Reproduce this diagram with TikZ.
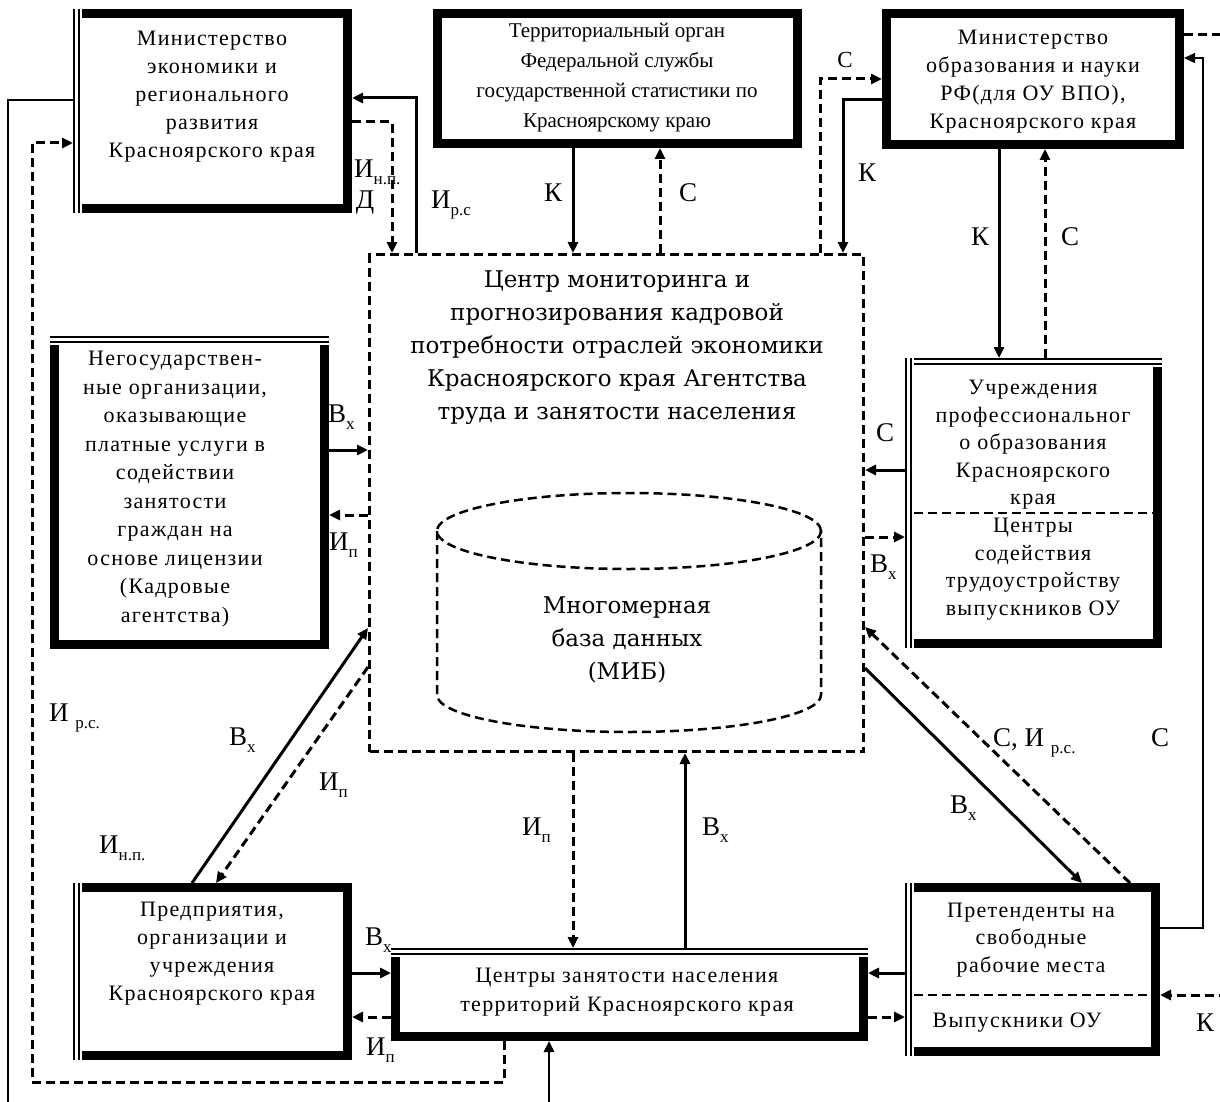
\documentclass[tikz,border=0pt]{standalone}
\usepackage{fontspec}
\setmainfont{Liberation Serif}
\newfontfamily\boxfont[LetterSpace=6]{Liberation Serif}
\newfontfamily\cfont{DejaVu Serif}
\usetikzlibrary{arrows.meta}
\newcommand{\lsub}[1]{\raisebox{-0.25em}{\fontsize{17}{17}\selectfont #1}}
\newcommand{\dblleft}[1]{%
  \fill[white] (#1.north west) rectangle ([xshift=9pt]#1.south west);
  \draw[line width=1.5pt] ([xshift=0.75pt]#1.north west) -- ([xshift=0.75pt]#1.south west);
  \draw[line width=1.5pt] ([xshift=6pt]#1.north west) -- ([xshift=6pt]#1.south west);}
\newcommand{\dbltop}[1]{%
  \fill[white] (#1.north west) rectangle ([yshift=-9pt]#1.north east);
  \draw[line width=1.5pt] ([yshift=-0.75pt]#1.north west) -- ([yshift=-0.75pt]#1.north east);
  \draw[line width=1.5pt] ([yshift=-6pt]#1.north west) -- ([yshift=-6pt]#1.north east);}
\begin{document}
\begin{tikzpicture}[x=1pt,y=-1pt,
  box/.style={draw, line width=9pt, inner sep=0pt, outer sep=4.5pt, fill=white},
  cbox/.style={draw, line width=3pt, dash pattern=on 9pt off 5pt, inner sep=0pt, outer sep=1.5pt},
  txt/.style={font=\boxfont\fontsize{22}{28}\selectfont, align=center, inner sep=0pt},
  stxt/.style={font=\fontsize{21}{30}\selectfont, align=center, inner sep=0pt},
  ctxt/.style={font=\cfont\fontsize{23}{33}\selectfont, align=center, inner sep=0pt},
  lbl/.style={font=\fontsize{27}{27}\selectfont, inner sep=0pt},
  sol/.style={line width=3pt},
  dsh/.style={line width=3pt, dash pattern=on 9pt off 5pt},
  thn/.style={line width=1.5pt},
  divl/.style={line width=2pt, dash pattern=on 9pt off 5pt},
  cyl/.style={line width=2.5pt, dash pattern=on 9pt off 5pt},
  tip/.style={-{Triangle[length=11pt,width=10pt]}}]
\useasboundingbox (0,0) rectangle (1220,1102);
\fill[white] (0,0) rectangle (1220,1102);

% boxes
\node[box, minimum width=270pt, minimum height=195pt] (minecon) at (212.5,111) {};
\node[box, minimum width=360pt, minimum height=130pt] (stat) at (617.5,78.5) {};
\node[box, minimum width=293pt, minimum height=131pt] (minobr) at (1033,79) {};
\node[box, minimum width=270pt, minimum height=304pt] (negos) at (189.5,492.5) {};
\node[box, minimum width=248pt, minimum height=281pt] (uchr) at (1033.5,503) {};
\node[cbox, minimum width=494pt, minimum height=497pt] (cmon) at (616.5,503) {};
\node[box, minimum width=270pt, minimum height=168pt] (pred) at (212.5,971.5) {};
\node[box, minimum width=468pt, minimum height=84pt] (zan) at (629.5,994.5) {};
\node[box, minimum width=246pt, minimum height=164pt] (pret) at (1032.5,969.5) {};

\dblleft{minecon}
\dbltop{negos}
\dbltop{uchr}
\dblleft{uchr}
\dblleft{pred}
\dbltop{zan}
\dblleft{pret}

% dividers
\draw[divl] ([xshift=9pt]uchr.west |- 0,513) -- ([xshift=-9pt]uchr.east |- 0,513);
\draw[divl] ([xshift=9pt]pret.west |- 0,995) -- ([xshift=-9pt]pret.east |- 0,995);

% texts
\node[txt] (minecon-t) at (212,96.5) {Министерство\\экономики и\\регионального\\развития\\Красноярского края};
\node[stxt] (stat-t) at (617,78) {Территориальный орган\\Федеральной службы\\государственной статистики по\\Красноярскому краю};
\node[txt] (minobr-t) at (1033,82) {Министерство\\образования и науки\\РФ(для ОУ ВПО),\\Красноярского края};
\node[txt, font=\boxfont\fontsize{22}{28.5}\selectfont] (negos-t) at (175,489) {Негосударствен-\\ные организации,\\оказывающие\\платные услуги в\\содействии\\занятости\\граждан на\\основе лицензии\\(Кадровые\\агентства)};
\node[txt, font=\boxfont\fontsize{22}{27.5}\selectfont] (uchr-t) at (1033,445) {Учреждения\\профессиональног\\о образования\\Красноярского\\края};
\node[txt, font=\boxfont\fontsize{22}{27.5}\selectfont] (csod-t) at (1033,569) {Центры\\содействия\\трудоустройству\\выпускников ОУ};
\node[txt] (pred-t) at (212,954) {Предприятия,\\организации и\\учреждения\\Красноярского края};
\node[txt, font=\boxfont\fontsize{22}{29}\selectfont] (zan-t) at (627,992) {Центры занятости населения\\территорий Красноярского края};
\node[txt, font=\boxfont\fontsize{22}{27.5}\selectfont] (pret-t) at (1031,940) {Претенденты на\\свободные\\рабочие места};
\node[txt] (vyp-t) at (1017,1023) {Выпускники ОУ};
\node[ctxt] (cmon-t) at (617,347.5) {Центр мониторинга и\\прогнозирования кадровой\\потребности отраслей экономики\\Красноярского края Агентства\\труда и занятости населения};

% cylinder
\draw[cyl] (629,531) ellipse [x radius=192pt, y radius=38pt];
\draw[cyl] (437,531) -- (437,695) arc[start angle=180, end angle=360, x radius=192pt, y radius=37pt] -- (821,531);
\node[ctxt] (cyl-t) at (627,640) {Многомерная\\база данных\\(МИБ)};

% connectors
\draw[sol,tip] (cmon.north -| 416,0) |- (minecon.east |- 0,98);
\draw[dsh,tip] (minecon.east |- 0,122) -| (cmon.north -| 392,0);
\draw[dsh,tip] (zan.south -| 504,0) -- (504,1082) -- (32,1082) -- (32,143) -- (minecon.west |- 0,143);
\coordinate (lb) at (8,1110);
\draw[thn] (minecon.west |- 0,100) -| (lb);
\coordinate (bb) at (549,1110);
\draw[line width=2.5pt,tip] (bb) -- (zan.south -| bb);
\draw[sol,tip] (stat.south -| 573,0) -- (cmon.north -| 573,0);
\draw[dsh,tip] (cmon.north -| 660,0) -- (stat.south -| 660,0);
\draw[dsh,tip] (cmon.north -| 820,0) |- (minobr.west |- 0,79);
\draw[sol,tip] (minobr.west |- 0,100) -| (cmon.north -| 843,0);
\draw[sol,tip] (minobr.south -| 999,0) -- (uchr.north -| 999,0);
\draw[dsh,tip] (uchr.north -| 1045,0) -- (minobr.south -| 1045,0);
\coordinate (re1) at (1228,35);
\draw[dsh] (minobr.east |- re1) -- (re1);
\coordinate (re2) at (1228,995);
\draw[dsh,tip] (re2) -- (pret.east |- re2);
\draw[thn,tip] (pret.east |- 0,928) -- (1203,928) -- (1203,58) -- (minobr.east |- 0,58);
\draw[sol,tip] (uchr.west |- 0,470) -- (cmon.east |- 0,470);
\draw[dsh,tip] (cmon.east |- 0,537) -- (uchr.west |- 0,537);
\draw[sol,tip] (negos.east |- 0,450) -- (cmon.west |- 0,450);
\draw[dsh,tip] (cmon.west |- 0,515) -- (negos.east |- 0,515);
\draw[sol,tip] (pred.north -| 192,0) -- (cmon.west |- 0,628);
\draw[dsh,tip] (cmon.west |- 0,667) -- (pred.north -| 216,0);
\draw[dsh,tip] (cmon.south -| 573,0) -- (zan.north -| 573,0);
\draw[sol,tip] (zan.north -| 685,0) -- (cmon.south -| 685,0);
\draw[sol,tip] (pred.east |- 0,973) -- (zan.west |- 0,973);
\draw[dsh,tip] (zan.west |- 0,1017) -- (pred.east |- 0,1017);
\draw[sol,tip] (pret.west |- 0,973) -- (zan.east |- 0,973);
\draw[dsh,tip] (zan.east |- 0,1017) -- (pret.west |- 0,1017);
\draw[sol,tip] (cmon.east |- 0,668) -- (pret.north -| 1082,0);
\draw[dsh,tip] (pret.north -| 1130,0) -- (cmon.east |- 0,627);

% labels
\node[lbl, anchor=west] (l-irs1) at (431,205) {И\lsub{р.с}};
\node[lbl, anchor=west] (l-inp1) at (354,172) {И\lsub{н.п.}};
\node[lbl] (l-d) at (365,203) {Д};
\node[lbl] (l-k1) at (553,193) {К};
\node[lbl] (l-c1) at (688,193) {С};
\node[lbl, font=\fontsize{23}{23}\selectfont] (l-c2) at (845,60) {С};
\node[lbl] (l-k2) at (867,173) {К};
\node[lbl] (l-k3) at (980,237) {К};
\node[lbl] (l-c3) at (1070,237) {С};
\node[lbl] (l-c4) at (885,433) {С};
\node[lbl, anchor=west] (l-vx1) at (870,567) {В\lsub{х}};
\node[lbl, anchor=west] (l-vx2) at (328,417) {В\lsub{х}};
\node[lbl, anchor=west] (l-ip1) at (329,545) {И\lsub{п}};
\node[lbl, anchor=west] (l-irs2) at (49,718) {И \lsub{р.с.}};
\node[lbl, anchor=west] (l-vx3) at (229,740) {В\lsub{х}};
\node[lbl, anchor=west] (l-ip2) at (319,785) {И\lsub{п}};
\node[lbl, anchor=west] (l-inp2) at (99,848) {И\lsub{н.п.}};
\node[lbl, anchor=west] (l-ip3) at (522,830) {И\lsub{п}};
\node[lbl, anchor=west] (l-vx4) at (702,830) {В\lsub{х}};
\node[lbl, anchor=west] (l-vx5) at (365,940) {В\lsub{х}};
\node[lbl, anchor=west] (l-ip4) at (366,1050) {И\lsub{п}};
\node[lbl, anchor=west] (l-vx6) at (950,808) {В\lsub{х}};
\node[lbl, anchor=west] (l-cirs) at (993,743) {С, И \lsub{р.с.}};
\node[lbl] (l-c5) at (1160,738) {С};
\node[lbl] (l-k4) at (1205,1023) {К};
\end{tikzpicture}
\end{document}
